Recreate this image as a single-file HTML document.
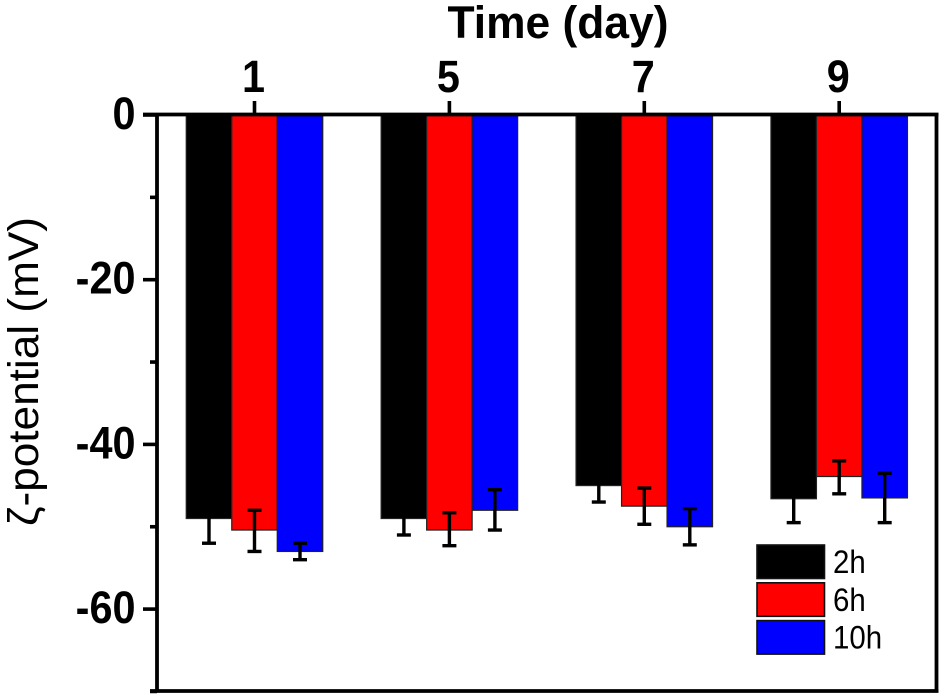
<!DOCTYPE html>
<html>
<head>
<meta charset="utf-8">
<style>
html,body{margin:0;padding:0;background:#fff;width:945px;height:700px;overflow:hidden}
svg{display:block}
text{font-family:"Liberation Sans",sans-serif;fill:#000}
</style>
</head>
<body>
<svg id="chart" width="945" height="700" viewBox="0 0 945 700" xmlns="http://www.w3.org/2000/svg">
<text x="558" y="38" font-size="45" font-weight="bold" text-anchor="middle" textLength="221" lengthAdjust="spacingAndGlyphs">Time (day)</text>
<text transform="translate(38,371.5) rotate(-90)" font-size="43" text-anchor="middle" textLength="309" lengthAdjust="spacingAndGlyphs">ζ-potential (mV)</text>
</svg>
<script>
const categories = ['1', '5', '7', '9'];
const seriesNames = ['2h', '6h', '10h'];
const seriesColors = ['#000000', '#ff0000', '#0000ff'];
const values2h = [-49, -49, -45, -46.6];
const values6h = [-50.4, -50.4, -47.5, -43.9];
const values10h = [-53, -48, -50, -46.5];
const upperCaps2h = [-46, -47, -43, -43.7];
const upperCaps6h = [-48, -48.3, -45.3, -42];
const upperCaps10h = [-52, -45.5, -47.8, -43.5];
const lowerCaps2h = [-52, -51, -47, -49.5];
const lowerCaps6h = [-53, -52.3, -49.7, -46];
const lowerCaps10h = [-54, -50.4, -52.2, -49.5];
const majorTicks = [0, -20, -40, -60];
const minorTicks = [-10, -30, -50, -70];

const svg = document.getElementById('chart');
const NS = 'http://www.w3.org/2000/svg';
const seriesValues = [values2h, values6h, values10h];
const seriesUpper = [upperCaps2h, upperCaps6h, upperCaps10h];
const seriesLower = [lowerCaps2h, lowerCaps6h, lowerCaps10h];

function yScale(v) { return 115 - v * 8.235; }
function xScale(i) { return 254.5 + i * 194.9; }
const barWidth = 45.5;

function make(tag, attrs) {
  const el = document.createElementNS(NS, tag);
  for (const k in attrs) el.setAttribute(k, attrs[k]);
  svg.appendChild(el);
  return el;
}

// bars
seriesValues.forEach(function (vals, s) {
  vals.forEach(function (v, i) {
    const x = xScale(i) + (s - 1) * barWidth - barWidth / 2;
    const bar = make('rect', { x: x, y: yScale(0), width: barWidth, height: yScale(v) - yScale(0), fill: seriesColors[s], stroke: '#222', 'stroke-width': 1.2 });
    
    
  });
});

// error bars
seriesValues.forEach(function (vals, s) {
  vals.forEach(function (v, i) {
    const cx = xScale(i) + (s - 1) * barWidth;
    const g = make('g', { stroke: '#000', 'stroke-width': 3.4, fill: 'none' });
    
    
    const yU = yScale(seriesUpper[s][i]);
    const yL = yScale(seriesLower[s][i]);
    [[cx, yU, cx, yL], [cx - 7, yU, cx + 7, yU], [cx - 7, yL, cx + 7, yL]].forEach(function (c) {
      const l = document.createElementNS(NS, 'line');
      l.setAttribute('x1', c[0]);
      l.setAttribute('y1', c[1]);
      l.setAttribute('x2', c[2]);
      l.setAttribute('y2', c[3]);
      g.appendChild(l);
    });
  });
});

// axes frame
const axisSpecs = [
  ['top-axis-line', 143, 114.5, 938.5, 114.5],
  ['left-axis-line', 157, 113, 157, 692.5],
  ['right-axis-line', 936.5, 113, 936.5, 692.5],
  ['bottom-axis-line', 150, 691, 938.5, 691]
];
axisSpecs.forEach(function (a) {
  const line = make('line', { x1: a[1], y1: a[2], x2: a[3], y2: a[4], stroke: '#000', 'stroke-width': 3.8 });
  
  
});

// y ticks
majorTicks.forEach(function (t) {
  const tick = make('line', { x1: 143, y1: yScale(t), x2: 157, y2: yScale(t), stroke: '#000', 'stroke-width': 3.6 });
  
  
  const label = make('text', { transform: 'translate(135.5,' + (yScale(t) + 14) + ') scale(0.92,1)', 'font-size': 45, 'font-weight': 'bold', 'text-anchor': 'end' });
  label.textContent = String(t);
  
  
});
minorTicks.forEach(function (t) {
  const tick = make('line', { x1: 150, y1: yScale(t), x2: 157, y2: yScale(t), stroke: '#000', 'stroke-width': 3.6 });
  
  
});

// x ticks
categories.forEach(function (c, i) {
  const tick = make('line', { x1: xScale(i), y1: 101, x2: xScale(i), y2: 115, stroke: '#000', 'stroke-width': 3.6 });
  
  
  const label = make('text', { transform: 'translate(' + (xScale(i) - 1) + ',92) scale(0.92,1)', 'font-size': 45, 'font-weight': 'bold', 'text-anchor': 'middle' });
  label.textContent = c;
  
  
});

// legend
seriesNames.forEach(function (n, s) {
  const top = 545 + s * 37.8;
  const swatch = make('rect', { x: 757, y: top, width: 67.5, height: 33.5, fill: seriesColors[s], stroke: '#111', 'stroke-width': 1.6 });
  
  
  const label = make('text', { transform: 'translate(833,' + (top + 28) + ') scale(0.92,1)', 'font-size': 32 });
  label.textContent = n;
  
  
});
</script>
</body>
</html>
